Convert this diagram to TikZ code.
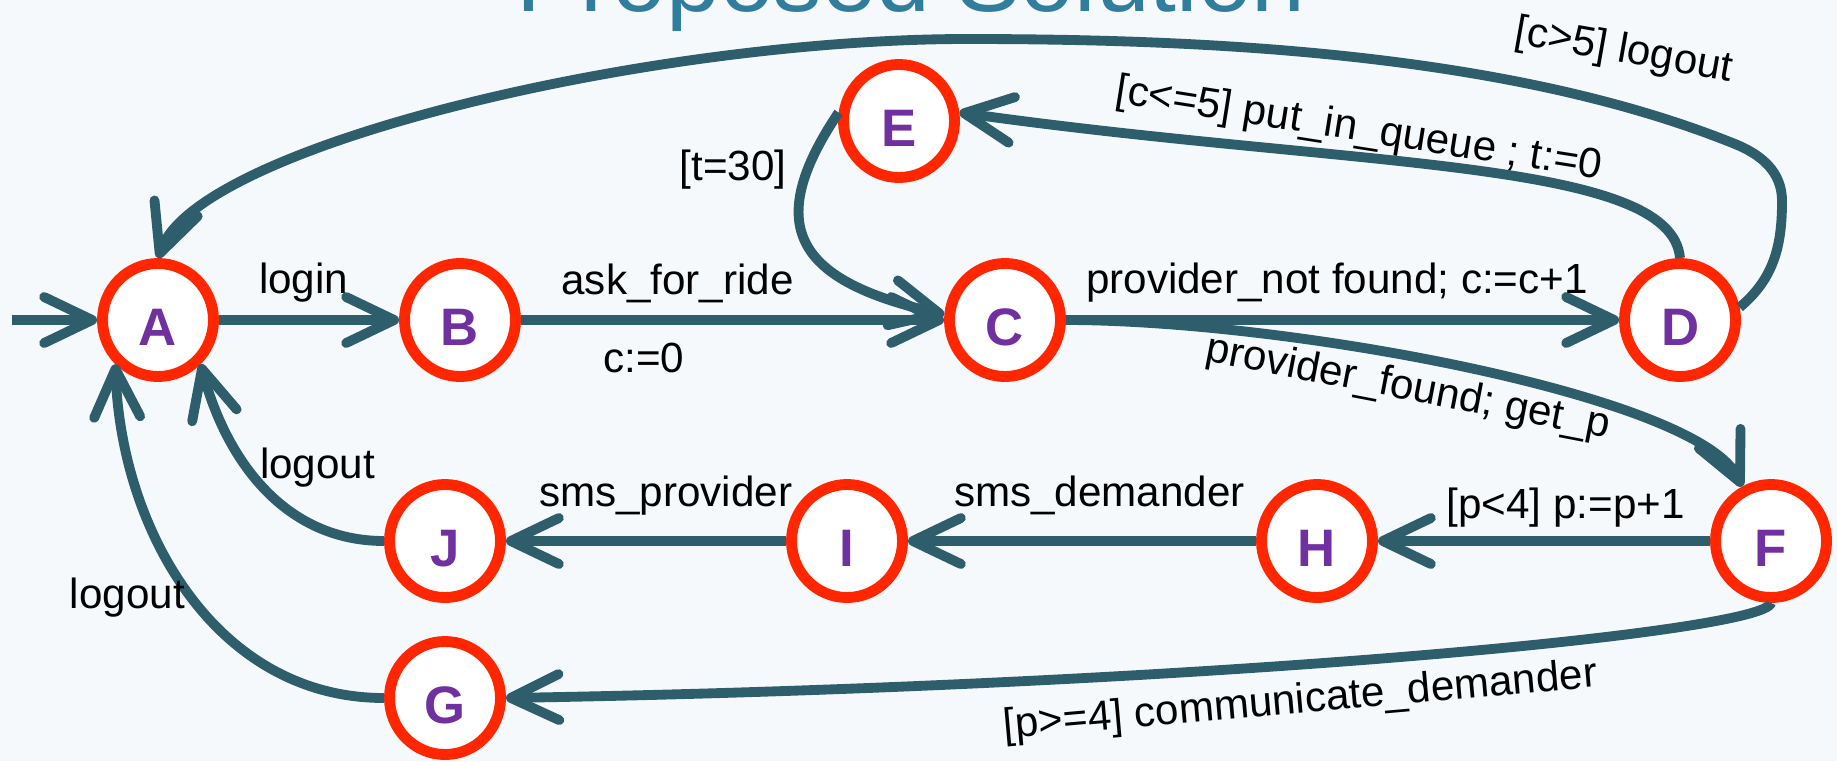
\documentclass[tikz,border=0pt]{standalone}
\usepackage{fontspec}
\setmainfont{Liberation Sans}
\usepackage{tikz}
\usetikzlibrary{shapes.geometric, arrows.meta}
\usepackage{xcolor}

\definecolor{edgeteal}{RGB}{46,94,108}
\definecolor{ringred}{RGB}{255,38,0}
\definecolor{letterpurple}{RGB}{112,48,160}
\definecolor{headteal}{RGB}{49,125,158}
\definecolor{slidebg}{RGB}{245,249,252}

\begin{document}
\begin{tikzpicture}[
    node distance=2cm,
    state/.style={ellipse, draw=ringred, line width=3.1pt, fill=white, minimum width=1.11cm, minimum height=1.13cm, inner sep=0pt, text height=14.5pt, text depth=0pt, text=letterpurple, font=\fontsize{15}{17}\selectfont\bfseries},
    lbl/.style={font=\fontsize{12}{14}\selectfont, text=black, inner sep=2pt, outer sep=0pt},
    heading/.style={font=\fontsize{27.5}{32}\selectfont, text=headteal, anchor=base},
    line/.style={draw=edgeteal, line width=2.8pt, -{Straight Barb[length=4.8mm, width=4.6mm, round]}}
]
    \fill [slidebg] (0,0) rectangle (18.37,7.61);
    \useasboundingbox (0,0) rectangle (18.37,7.61);
    \node [heading] (title) at (9.11,7.50) {Proposed Solution};

    \node [state] (A) at (1.58,4.41) {A};
    \node [state, right of=A, xshift=1.02cm] (B) {B};
    \node [state, right of=B, xshift=3.45cm] (C) {C};
    \node [state, right of=C, xshift=4.75cm] (D) {D};
    \node [state, above of=C, xshift=-1.06cm, yshift=-0.01cm] (E) {E};
    \node [state, below of=D, xshift=0.91cm, yshift=-0.21cm] (F) {F};
    \node [state, left of=F, xshift=-2.54cm] (H) {H};
    \node [state, left of=H, xshift=-2.70cm] (I) {I};
    \node [state, left of=I, xshift=-2.02cm] (J) {J};
    \node [state, below of=J, yshift=0.43cm] (G) {G};
    \coordinate [left of=A, xshift=0.54cm] (start);
    \coordinate [right of=D, xshift=-0.98cm, yshift=1.19cm] (bend);
    \coordinate [right of=D, xshift=-1.45cm, yshift=1.76cm] (corner);
    \coordinate [above of=E, xshift=0.68cm, yshift=-1.18cm] (crest);

    \path [line] (start) -- (A);
    \path [line] (A) -- node [lbl, pos=0.47, above=3pt] (lLogin) {login} (B);
    \path [line] (B) -- node [lbl, pos=0.37, above=3pt] (lAsk) {ask\_for\_ride} node [lbl, pos=0.29, below=4.5pt] (lReset) {c:=0} (C);
    \path [line] (C) -- node [lbl, pos=0.49, above=3pt] (lNotFound) {provider\_not found; c:=c+1} (D);
    \path [line] (C.east) .. controls +(2.24,0) and +(-0.42,0.9) .. (F.118) node [lbl, pos=0.43, sloped, below=1.5pt] (lFound) {provider\_found; get\_p};
    \path [line] (D.north) .. controls +(95:1.0) and +(-8:4.0) .. (E.8) node [lbl, pos=0.63, rotate=-9, above=0pt] (lQueue) {[c<=5] put\_in\_queue ; t:=0};
    \path [line] (E.172) .. controls +(236:1.41) and +(167:1.48) .. (C.175) node [lbl, pos=0.18, left=4pt] (lWait) {[t=30]};
    \path [line] (D.12) to [out=40, in=-90] (bend) to [out=90, in=-22] (corner) to [out=158, in=0, looseness=0.8] node [lbl, pos=0.17, rotate=-10, above=7.6pt] (lMore) {[c>5] logout} (crest) .. controls +(-3.17,0) and +(70:1.2) .. (A.north);
    \path [line] (F) -- node [lbl, pos=0.435, above=2pt] (lInc) {[p<4] p:=p+1} (H);
    \path [line] (H) -- node [lbl, pos=0.45, above=5.4pt] (lSmsD) {sms\_demander} (I);
    \path [line] (I) -- node [lbl, pos=0.43, above=5.4pt] (lSmsP) {sms\_provider} (J);
    \path [line] (J.west) to [out=180, in=-75] node [lbl, pos=0.6, right=1.5pt] (lOutJ) {logout} (A.-46);
    \path [line] (G.west) to [out=180, in=-88] node [lbl, pos=0.49, left=0pt] (lOutG) {logout} (A.-134);
    \path [line] (F.south) .. controls +(-100:0.3) and +(7,0.12) .. (G.east) node [lbl, pos=0.57, below=3pt, rotate=5] (lComm) {[p>=4] communicate\_demander};
\end{tikzpicture}
\end{document}
